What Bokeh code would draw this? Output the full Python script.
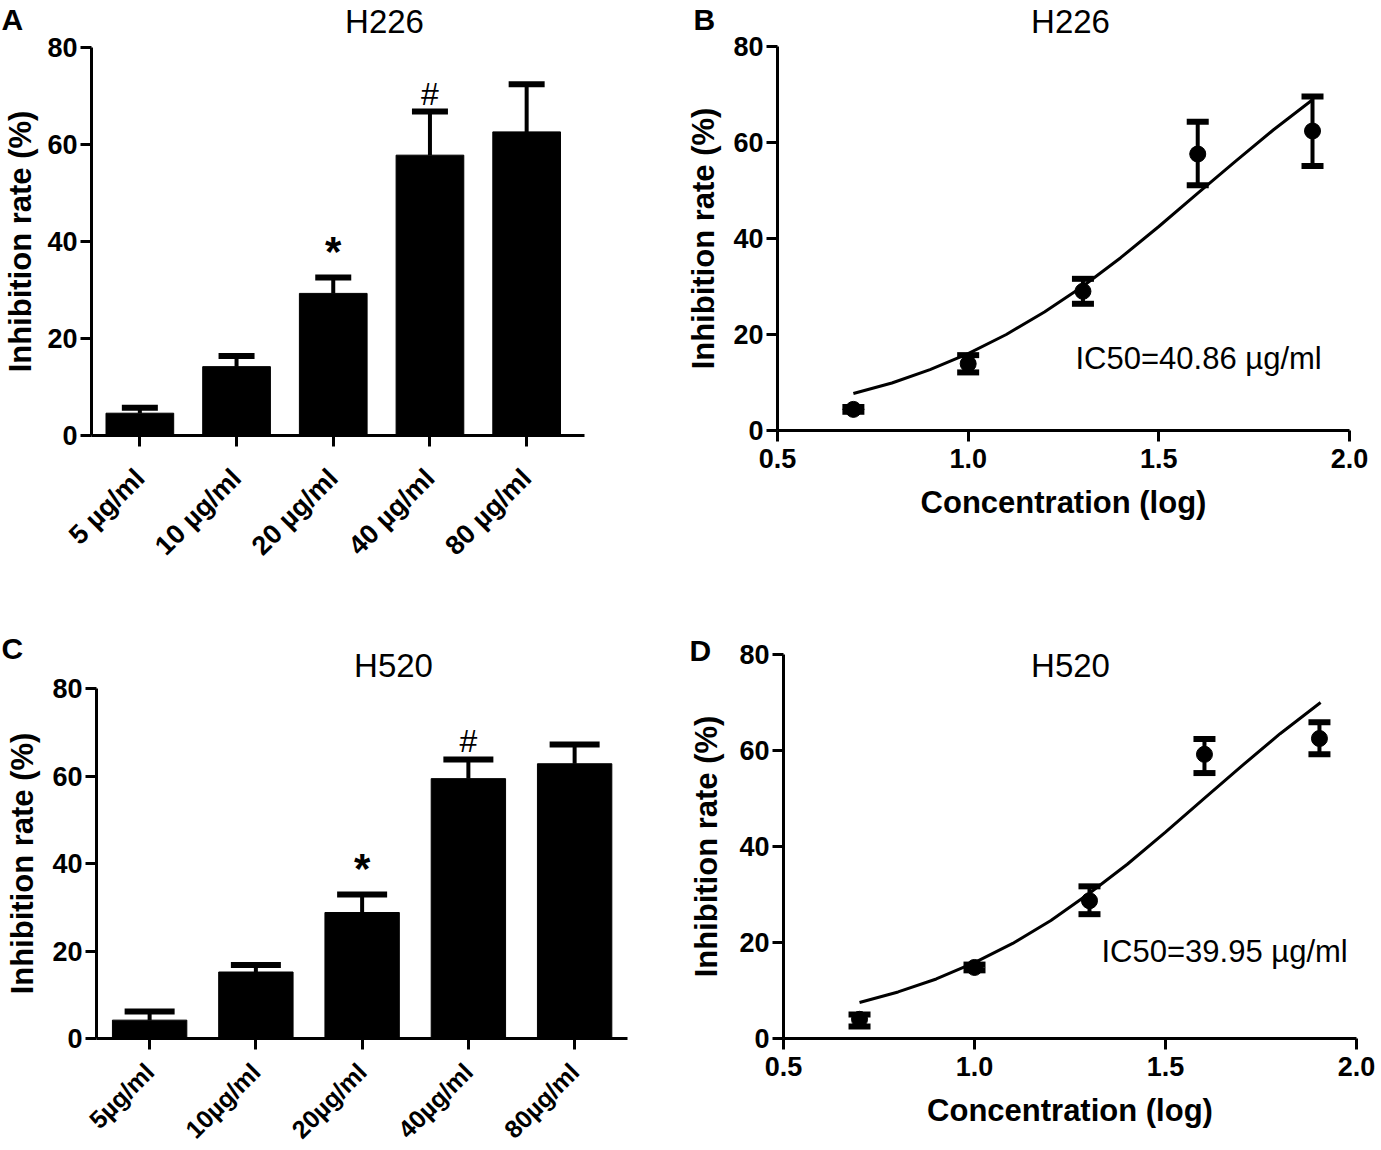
import math
from bokeh.plotting import figure
from bokeh.models import (Range1d, Label, Whisker, TeeHead, ColumnDataSource, FixedTicker,
                          PrintfTickFormatter)
from bokeh.layouts import row, column
from bokeh.embed import file_html
from bokeh.resources import INLINE
from bokeh.core.properties import value

FONT = "Liberation Sans"

# ---------------- data ----------------
cats_a = ["5 µg/ml", "10 µg/ml", "20 µg/ml", "40 µg/ml", "80 µg/ml"]
vals_a = [4.6, 14.2, 29.3, 57.8, 62.6]
upper_a = [5.7, 16.4, 32.6, 66.8, 72.4]
mark_cats_a = ["20 µg/ml", "40 µg/ml"]
mark_y_a = [36.9, 70.4]
mark_txt_a = ["*", "#"]

cats_c = ["5µg/ml", "10µg/ml", "20µg/ml", "40µg/ml", "80µg/ml"]
vals_c = [4.2, 15.2, 28.8, 59.4, 62.8]
upper_c = [6.2, 16.8, 32.9, 63.8, 67.2]
mark_cats_c = ["20µg/ml", "40µg/ml"]
mark_y_c = [37.7, 68.0]
mark_txt_c = ["*", "#"]

logc = [0.699, 1.0, 1.301, 1.602, 1.903]
mean_b = [4.4, 13.9, 29.0, 57.6, 62.4]
lo_b = [3.9, 12.1, 26.4, 51.1, 55.1]
hi_b = [4.9, 15.7, 31.6, 64.3, 69.6]
curve_x_b = [0.699, 0.8, 0.9, 1.0, 1.1, 1.2, 1.3, 1.4, 1.5, 1.6, 1.7, 1.8, 1.903]
curve_y_b = [7.7, 9.9, 12.7, 16.0, 20.0, 24.7, 30.0, 36.0, 42.5, 49.3, 56.0, 62.6, 68.9]
ic50_b = "IC50=40.86 µg/ml"

mean_d = [4.0, 14.8, 28.7, 59.2, 62.5]
lo_d = [2.5, 14.2, 25.9, 55.3, 59.2]
hi_d = [5.0, 15.4, 31.7, 62.4, 65.9]
curve_x_d = [0.699, 0.8, 0.9, 1.0, 1.1, 1.2, 1.3, 1.4, 1.5, 1.6, 1.7, 1.8, 1.906]
curve_y_d = [7.5, 9.7, 12.4, 15.8, 19.8, 24.6, 30.2, 36.3, 43.0, 49.9, 56.8, 63.5, 70.0]
ic50_d = "IC50=39.95 µg/ml"

y_ticks = [0, 20, 40, 60, 80]
x_ticks_log = [0.5, 1.0, 1.5, 2.0]
ylabel = "Inhibition rate (%)"
xlabel = "Concentration (log)"


# ---------------- helpers ----------------
def xr(fig_x, fig_w, p0, v0, p1, v1):
    s = (p1 - p0) / (v1 - v0)
    start = v0 - (p0 - fig_x) / s
    return Range1d(start, start + fig_w / s)


def yr(fig_y, fig_h, p0, v0, p1, v1):
    s = (p0 - p1) / (v1 - v0)
    bottom = v0 - (fig_y + fig_h - p0) / s
    return Range1d(bottom, bottom + fig_h / s)


def make_fig(box, x_range, y_range):
    x, y, w, h = box
    p = figure(x_range=x_range, y_range=y_range, width=w, height=h, min_border=0,
               output_backend="svg", toolbar_location=None)
    p.title.visible = False
    p.grid.visible = False
    p.outline_line_color = None
    p.background_fill_color = "white"
    p.border_fill_color = "white"
    return p


def style_axes(p, x_loc, y_bounds, x_bounds, ylab_standoff):
    for ax in (p.xaxis[0], p.yaxis[0]):
        ax.axis_line_width = 3
        ax.axis_line_color = "black"
        ax.major_tick_line_width = 3
        ax.major_tick_line_color = "black"
        ax.major_tick_out = 11
        ax.major_tick_in = 0
        ax.minor_tick_out = 0
        ax.minor_tick_in = 0
        ax.major_label_text_font = FONT
        ax.major_label_text_font_style = "bold"
        ax.major_label_text_font_size = "27px"
        ax.major_label_text_color = "black"
        ax.axis_label_text_font = FONT
        ax.axis_label_text_font_style = "bold"
        ax.axis_label_text_color = "black"
    xa, ya = p.xaxis[0], p.yaxis[0]
    xa.fixed_location = 0
    xa.bounds = x_bounds
    ya.fixed_location = x_loc
    ya.bounds = y_bounds
    ya.ticker = FixedTicker(ticks=y_ticks)
    ya.major_label_standoff = 3
    ya.axis_label = ylabel
    ya.axis_label_text_font_size = "31px"
    ya.axis_label_standoff = ylab_standoff


def put(p, box, px, py, text, size, bold=False, align="center"):
    # px, py: page position of the text's (left or centre, middle) anchor
    x, y, w, h = box
    p.add_layout(Label(x=px - x, y=y + h - py, x_units="screen", y_units="screen",
                       text=text, text_font=FONT, text_font_size=size,
                       text_font_style="bold" if bold else "normal",
                       text_align=align, text_baseline="middle", text_color="black"))


def bar_panel(box, geo, cats, vals, upper, mcats, my, mtxt, cap, xfont, xlab_standoff,
              ylab_standoff, x_end, letter, letter_pos, title, title_pos):
    x0, unit, py80, py0 = geo
    x, y, w, h = box
    p = make_fig(box, xr(x, w, x0, 0, x0 + unit, 1), yr(y, h, py0, 0, py80, 80))
    centers = [i + 0.5 for i in range(len(cats))]
    p.vbar(x=centers, top=vals, width=0.7, color="black")
    src = ColumnDataSource(dict(base=centers, lower=vals, upper=upper))
    p.add_layout(Whisker(base="base", lower="lower", upper="upper", source=src,
                         line_width=4, line_color="black", lower_head=None,
                         upper_head=TeeHead(size=cap, line_width=6, line_color="black")))
    mx = [cats.index(c) + 0.5 for c in mcats]
    for xx, yy, t in zip(mx, my, mtxt):
        star = t == "*"
        p.text(x=[xx], y=[yy], text=[t], text_font=value(FONT),
               text_font_size="42px" if star else "32px",
               text_font_style="bold" if star else "normal",
               y_offset=-5 if star else 0,
               text_align="center", text_baseline="middle", text_color="black")
    style_axes(p, 0, (0, 80), (0, x_end), ylab_standoff)
    xa = p.xaxis[0]
    xa.ticker = FixedTicker(ticks=centers)
    xa.major_label_overrides = {c: lab for c, lab in zip(centers, cats)}
    xa.major_label_orientation = math.pi / 4
    xa.major_label_text_font_size = xfont
    xa.major_label_standoff = xlab_standoff
    put(p, box, letter_pos[0], letter_pos[1], letter, "30px", bold=True, align="left")
    put(p, box, title_pos[0], title_pos[1], title, "33px")
    return p


def dose_panel(box, geo, mean, lo, hi, cx, cy, ic50, ic_pos, ylab_standoff,
               letter, letter_pos, title, title_pos):
    px05, px20, py80, py0 = geo
    x, y, w, h = box
    p = make_fig(box, xr(x, w, px05, 0.5, px20, 2.0), yr(y, h, py0, 0, py80, 80))
    p.line(cx, cy, line_width=3, color="black")
    src = ColumnDataSource(dict(x=logc, lo=lo, hi=hi))
    p.add_layout(Whisker(base="x", lower="lo", upper="hi", source=src, line_width=4,
                         line_color="black",
                         lower_head=TeeHead(size=22, line_width=6, line_color="black"),
                         upper_head=TeeHead(size=22, line_width=6, line_color="black")))
    p.scatter(logc, mean, size=16, color="black")
    style_axes(p, 0.5, (0, 80), (0.5, 2.0), ylab_standoff)
    xa = p.xaxis[0]
    xa.ticker = FixedTicker(ticks=x_ticks_log)
    xa.formatter = PrintfTickFormatter(format="%.1f")
    xa.major_label_standoff = 7
    xa.axis_label = xlabel
    xa.axis_label_text_font_size = "31px"
    xa.axis_label_standoff = 14
    put(p, box, letter_pos[0], letter_pos[1], letter, "30px", bold=True, align="left")
    put(p, box, title_pos[0], title_pos[1], title, "33px")
    put(p, box, ic_pos[0], ic_pos[1], ic50, "31px", align="left")
    return p


# page boxes (x, y, width, height)
box_a = (0, 0, 680, 628)
box_b = (680, 0, 701, 628)
box_c = (0, 628, 680, 522)
box_d = (680, 628, 701, 522)

pA = bar_panel(box_a, (91, 96.7, 47, 435), cats_a, vals_a, upper_a, mark_cats_a, mark_y_a,
               mark_txt_a, 36, "27px", 27, 6, 5.1, "A", (1, 19), "H226", (384, 21))
pB = dose_panel(box_b, (777, 1349, 46, 430), mean_b, lo_b, hi_b, curve_x_b, curve_y_b,
                ic50_b, (1075, 358), 9, "B", (693, 19), "H226", (1070, 21))
pC = bar_panel(box_c, (96, 106.25, 688, 1038), cats_c, vals_c, upper_c, mark_cats_c,
               mark_y_c, mark_txt_c, 50, "25px", 18, 9, 5.0, "C", (1, 648), "H520", (393, 665))
pD = dose_panel(box_d, (783, 1356, 654, 1038), mean_d, lo_d, hi_d, curve_x_d, curve_y_d,
                ic50_d, (1101, 951), 12, "D", (689, 650), "H520", (1070, 665))

layout = column(row(pA, pB), row(pC, pD))
open("out.html", "w").write(file_html(layout, INLINE))
